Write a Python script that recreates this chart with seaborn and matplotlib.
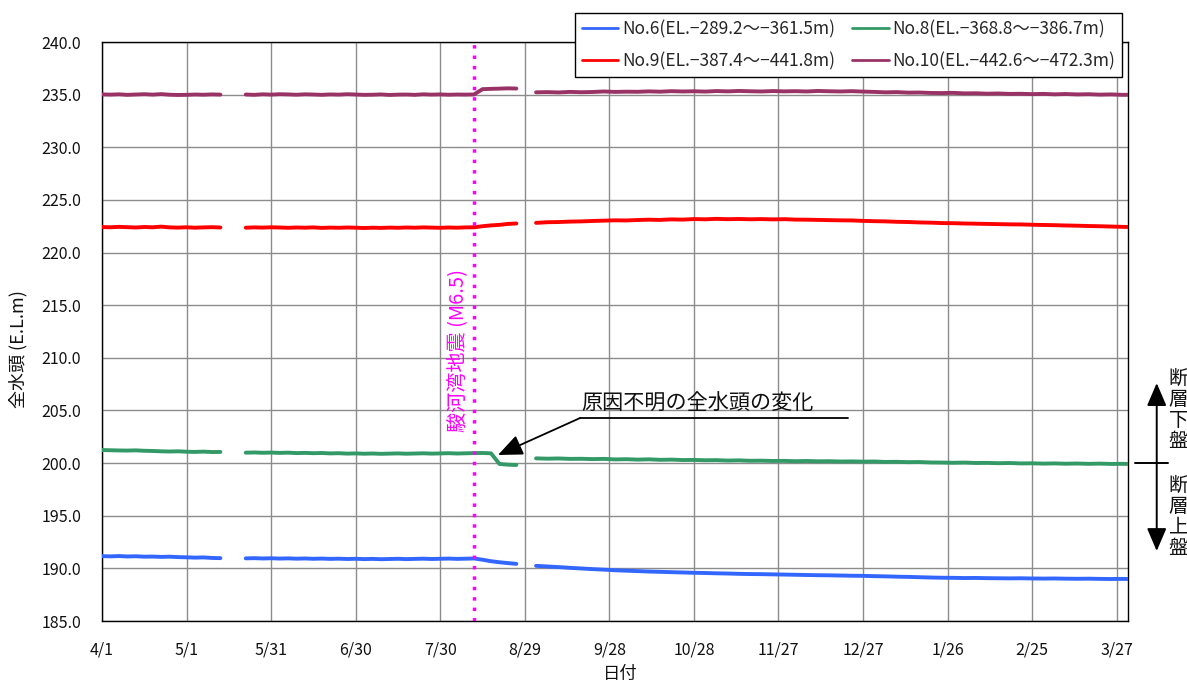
import numpy as np
import pandas as pd
import matplotlib
matplotlib.use("Agg")
import matplotlib.pyplot as plt
import matplotlib.dates as mdates
from matplotlib.transforms import blended_transform_factory
import seaborn as sns

# ---- observation periods (three logging segments, gaps between them) ----
seg1_dates = pd.date_range("2009-04-01", periods=15, freq="3D")
seg2_dates = pd.date_range("2009-05-22", periods=33, freq="3D")
seg3_dates = pd.date_range("2009-09-02", periods=54, freq="4D")

# ---- total head (E.L. m) per measuring section ----
no6_seg1 = [191.16, 191.14, 191.17, 191.13, 191.15, 191.11, 191.12, 191.09, 191.11, 191.07,
            191.05, 191.02, 191.04, 190.99, 190.97]
no6_seg2 = [190.95, 190.97, 190.94, 190.96, 190.93, 190.95, 190.92, 190.94, 190.91, 190.93,
            190.90, 190.92, 190.89, 190.91, 190.88, 190.90, 190.87, 190.89, 190.91, 190.88,
            190.90, 190.92, 190.89, 190.91, 190.93, 190.90, 190.92, 190.94,
            190.82, 190.68, 190.58, 190.50, 190.43]
no6_seg3 = [190.24, 190.18, 190.12, 190.05, 189.99, 189.93, 189.88, 189.82, 189.78, 189.74,
            189.70, 189.67, 189.64, 189.61, 189.58, 189.56, 189.53, 189.51, 189.48, 189.46,
            189.45, 189.43, 189.41, 189.39, 189.37, 189.35, 189.34, 189.32, 189.30, 189.29,
            189.26, 189.24, 189.21, 189.19, 189.16, 189.13, 189.11, 189.10, 189.08, 189.09,
            189.07, 189.06, 189.05, 189.06, 189.04, 189.03, 189.04, 189.02, 189.01, 189.02,
            189.00, 188.99, 189.00, 188.98]

no8_seg1 = [201.24, 201.22, 201.20, 201.19, 201.21, 201.17, 201.15, 201.12, 201.10, 201.12,
            201.08, 201.06, 201.09, 201.05, 201.06]
no8_seg2 = [200.99, 201.01, 200.98, 201.00, 200.97, 200.99, 200.95, 200.97, 200.94, 200.96,
            200.92, 200.94, 200.90, 200.92, 200.89, 200.91, 200.88, 200.90, 200.92, 200.89,
            200.91, 200.93, 200.90, 200.92, 200.94, 200.91, 200.93, 200.95,
            200.96, 200.93, 199.92, 199.85, 199.82]
no8_seg3 = [200.45, 200.42, 200.44, 200.40, 200.41, 200.38, 200.40, 200.35, 200.37, 200.33,
            200.36, 200.31, 200.33, 200.29, 200.30, 200.27, 200.28, 200.24, 200.26, 200.22,
            200.23, 200.20, 200.21, 200.18, 200.20, 200.17, 200.18, 200.15, 200.16, 200.14,
            200.15, 200.11, 200.12, 200.09, 200.10, 200.06, 200.05, 200.03, 200.05, 200.01,
            200.02, 199.99, 200.01, 199.97, 199.98, 199.95, 199.97, 199.94, 199.96, 199.93,
            199.95, 199.92, 199.93, 199.91]

no9_seg1 = [222.42, 222.40, 222.44, 222.41, 222.38, 222.43, 222.40, 222.46, 222.39, 222.37,
            222.40, 222.36, 222.39, 222.41, 222.38]
no9_seg2 = [222.36, 222.39, 222.37, 222.40, 222.38, 222.35, 222.38, 222.36, 222.39, 222.34,
            222.37, 222.35, 222.38, 222.36, 222.33, 222.36, 222.34, 222.37, 222.35, 222.38,
            222.36, 222.39, 222.37, 222.35, 222.38, 222.36, 222.39, 222.40,
            222.50, 222.58, 222.63, 222.72, 222.76]
no9_seg3 = [222.82, 222.88, 222.90, 222.94, 222.96, 223.00, 223.03, 223.06, 223.05, 223.09,
            223.12, 223.10, 223.15, 223.13, 223.18, 223.16, 223.20, 223.17, 223.19, 223.16,
            223.18, 223.15, 223.17, 223.13, 223.12, 223.10, 223.08, 223.06, 223.05, 223.01,
            222.98, 222.96, 222.92, 222.90, 222.86, 222.84, 222.80, 222.79, 222.76, 222.74,
            222.72, 222.70, 222.68, 222.67, 222.64, 222.62, 222.60, 222.57, 222.55, 222.52,
            222.50, 222.47, 222.44, 222.42]

no10_seg1 = [235.02, 235.00, 235.03, 234.98, 235.01, 235.04, 235.00, 235.05, 234.99, 234.97,
             234.98, 235.01, 234.99, 235.02, 235.00]
no10_seg2 = [235.01, 234.98, 235.03, 235.00, 235.04, 235.02, 234.99, 235.03, 235.01, 234.98,
             235.02, 235.00, 235.04, 235.01, 234.98, 234.99, 235.02, 234.97, 235.00, 235.01,
             234.98, 235.03, 235.00, 235.02, 234.99, 235.01, 235.00, 235.02,
             235.52, 235.55, 235.57, 235.60, 235.58]
no10_seg3 = [235.22, 235.24, 235.21, 235.26, 235.23, 235.25, 235.30, 235.26, 235.28, 235.27,
             235.31, 235.28, 235.33, 235.30, 235.32, 235.29, 235.34, 235.31, 235.35, 235.32,
             235.30, 235.34, 235.31, 235.33, 235.30, 235.35, 235.32, 235.30, 235.33, 235.29,
             235.26, 235.22, 235.24, 235.19, 235.20, 235.16, 235.15, 235.17, 235.12, 235.13,
             235.09, 235.11, 235.07, 235.08, 235.05, 235.07, 235.03, 235.06, 235.02, 235.04,
             235.00, 235.02, 234.98, 234.99]

series_names = ["No.6(EL.−289.2～−361.5m)", "No.8(EL.−368.8～−386.7m)",
                "No.9(EL.−387.4～−441.8m)", "No.10(EL.−442.6～−472.3m)"]
series_colors = ["#3366FF", "#339966", "#FF0000", "#993366"]

tick_labels = ["4/1", "5/1", "5/31", "6/30", "7/30", "8/29", "9/28",
               "10/28", "11/27", "12/27", "1/26", "2/25", "3/27"]
y_ticks = [185.0, 190.0, 195.0, 200.0, 205.0, 210.0, 215.0,
           220.0, 225.0, 230.0, 235.0, 240.0]

quake_date = pd.Timestamp("2009-08-11")
start_date = pd.Timestamp("2009-04-01")
end_date = pd.Timestamp("2010-03-31")

# ---- long-form table ----
frames = []
segments = [seg1_dates, seg2_dates, seg3_dates]
values = [
    [no6_seg1, no6_seg2, no6_seg3],
    [no8_seg1, no8_seg2, no8_seg3],
    [no9_seg1, no9_seg2, no9_seg3],
    [no10_seg1, no10_seg2, no10_seg3],
]
for name, per_seg in zip(series_names, values):
    for k, (d, v) in enumerate(zip(segments, per_seg)):
        assert len(d) == len(v), (name, k, len(d), len(v))
        frames.append(pd.DataFrame({"date": d, "head": v, "well": name, "seg": k}))
df = pd.concat(frames, ignore_index=True)

# ---- figure ----
sns.set_theme(style="white")
plt.rcParams["font.family"] = ["Noto Sans CJK JP", "DejaVu Sans"]
plt.rcParams["axes.unicode_minus"] = False

fig = plt.figure(figsize=(11.87, 6.86), dpi=100)
ax = fig.add_axes([0.08593, 0.09475, 0.86436, 0.84402])

sns.lineplot(data=df, x="date", y="head", hue="well", units="seg",
             estimator=None, sort=False, hue_order=series_names,
             palette=series_colors, linewidth=2.8, ax=ax, zorder=3)

ax.set_xlim(start_date, end_date)
ax.set_ylim(185, 240)

tick_dates = [start_date + pd.Timedelta(days=30 * i) for i in range(len(tick_labels))]
ax.set_xticks(tick_dates)
ax.set_xticklabels(tick_labels)
ax.set_yticks(y_ticks)
ax.set_yticklabels([f"{t:.1f}" for t in y_ticks])
ax.tick_params(axis="both", length=0, labelsize=11.5, colors="#111111")
ax.tick_params(axis="x", pad=15)
ax.tick_params(axis="y", pad=15)

ax.grid(True, color="#8c8c8c", linewidth=1.0)
ax.set_axisbelow(True)
for sp in ax.spines.values():
    sp.set_color("black")
    sp.set_linewidth(1.0)

ax.set_xlabel("日付", fontsize=12.5, color="#111111")
ax.set_ylabel("全水頭 (E.L.m)", fontsize=13, color="#111111")
ax.xaxis.set_label_coords(0.505, -0.076)
ax.yaxis.set_label_coords(-0.073, 0.47)

# ---- earthquake marker ----
ax.axvline(quake_date, color="#FF00FF", linewidth=2.5, linestyle=(0, (1, 2)), zorder=4)
ax.text(quake_date - pd.Timedelta(days=6), 210.7, "駿河湾地震 (M6.5)", rotation=90,
        color="#FF00FF", fontsize=14.5, ha="center", va="center", zorder=5)

# ---- annotation of the unexplained change ----
t0 = mdates.date2num(start_date)
ax.text(t0 + 170.2, 205.65, "原因不明の全水頭の変化", fontsize=15.2,
        ha="left", va="center", color="#111111", zorder=5)
ax.plot([t0 + 169.6, t0 + 264.7], [204.28, 204.28], color="black", lw=1.3, zorder=5)
ax.annotate("", xy=(t0 + 140.5, 200.77), xytext=(t0 + 169.6, 204.28),
            arrowprops=dict(arrowstyle="-|>,head_length=0.75,head_width=0.32",
                            color="black", lw=1.3, shrinkA=0, shrinkB=0,
                            mutation_scale=20), zorder=6)

# ---- fault block indicators outside the plot ----
trans = blended_transform_factory(ax.transAxes, ax.transData)
ax.plot([1.007, 1.039], [200, 200], transform=trans, clip_on=False, color="black", lw=1.4)
for tip in (207.6, 191.65):
    ax.annotate("", xy=(1.028, tip), xycoords=trans, xytext=(1.028, 200), textcoords=trans,
                arrowprops=dict(arrowstyle="-|>,head_length=0.7,head_width=0.3",
                                color="black", lw=1.4, shrinkA=0, shrinkB=0,
                                mutation_scale=20), annotation_clip=False)
ax.text(1.049, 205.05, "断\n層\n下\n盤", transform=trans, ha="center", va="center",
        fontsize=14, linespacing=1.0, color="#111111", clip_on=False)
ax.text(1.049, 194.9, "断\n層\n上\n盤", transform=trans, ha="center", va="center",
        fontsize=14, linespacing=1.0, color="#111111", clip_on=False)

# ---- legend: two columns, rows (No.6, No.8) and (No.9, No.10) ----
handles, labels = ax.get_legend_handles_labels()
lookup = dict(zip(labels, handles))
order = [series_names[0], series_names[2], series_names[1], series_names[3]]
leg = ax.legend([lookup[n] for n in order], order, ncol=2, loc="upper right",
                bbox_to_anchor=(1122 / 1187, 1 - 13 / 686), bbox_transform=fig.transFigure,
                fontsize=12.5, frameon=True, fancybox=False, framealpha=1,
                edgecolor="black", borderpad=0.4, labelspacing=0.8,
                handlelength=2.1, handletextpad=0.2, columnspacing=1.0,
                borderaxespad=0)
leg.get_frame().set_linewidth(1.0)
for line in leg.get_lines():
    line.set_linewidth(2.0)

fig.savefig("out.png", dpi=100)
